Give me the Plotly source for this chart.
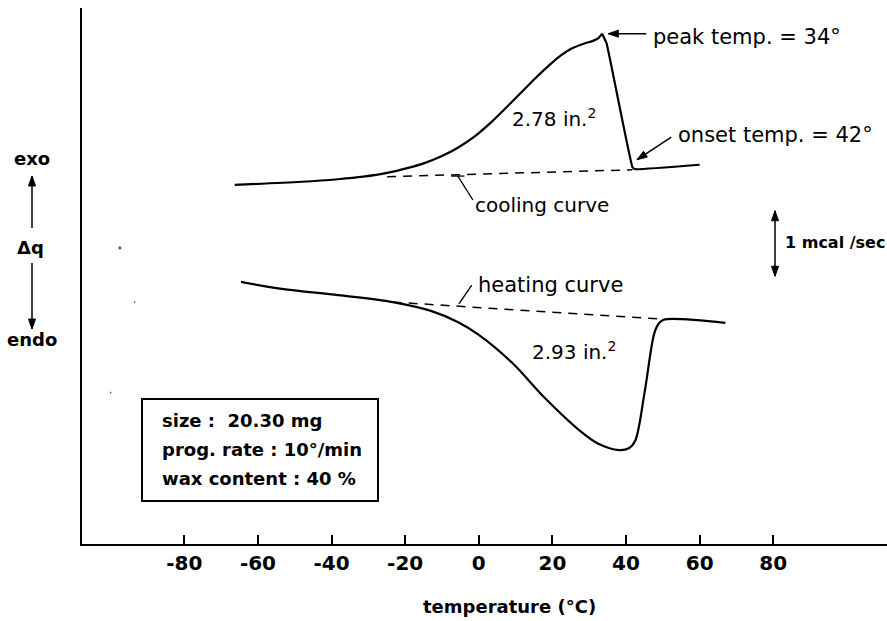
import math
import plotly.graph_objects as go

# ---------------- data (temperature in degC, heat flow in mcal/sec, arbitrary offset) ----------------
cool_T = [-66.3, -48.1, -38.3, -31.4, -24.9, -19.2, -14.6, -10.3, -5.7, -1.1, 3.1, 6.8,
          10.9, 15.3, 19.7, 22.4, 25.1, 28.5, 31.2, 32.5, 33.5, 34.7, 41.75, 42.5, 60.0]
cool_q = [5.70, 5.75, 5.79, 5.83, 5.89, 5.97, 6.05, 6.15, 6.29, 6.47, 6.68, 6.89,
          7.13, 7.39, 7.63, 7.76, 7.86, 7.94, 7.99, 8.03, 8.10, 7.95, 5.98, 5.95, 6.02]
cool_base_T = [-24.9, 41.75]
cool_base_q = [5.83, 5.94]

heat_T = [-64.6, -53.5, -38.2, -23.4, -13.0, -5.6, 0.0, 9.0, 17.9, 27.0, 32.5, 38.1, 40.75,
          42.5, 45.05, 47.65, 48.9, 50.2, 67.0]
heat_q = [4.16, 4.05, 3.95, 3.84, 3.70, 3.52, 3.32, 2.88, 2.32, 1.82, 1.59, 1.49, 1.52,
          1.64, 2.41, 3.34, 3.50, 3.56, 3.51]
heat_base_T = [-23.4, 49.6]
heat_base_q = [3.84, 3.57]

tick_vals = [-80, -60, -40, -20, 0, 20, 40, 60, 80]
tick_text = ["-80", "-60", "-40", "-20", "0", "20", "40", "60", "80"]

box_lines = ["size :  20.30 mg", "prog. rate : 10°/min", "wax content : 40 %"]
speck_T = [-97.5, -93.5, -100.0]
speck_q = [4.70, 3.84, 2.40]

# ---------------- figure ----------------
FONT = "DejaVu Sans"
fig = go.Figure()

solid = dict(color="black", width=2.2)
dashed = dict(color="black", width=1.5, dash="9px,7px")

fig.add_trace(go.Scatter(x=cool_T[:21], y=cool_q[:21], mode="lines", line=solid, line_shape="spline",
                         line_smoothing=0.9, hoverinfo="skip"))
fig.add_trace(go.Scatter(x=cool_T[20:], y=cool_q[20:], mode="lines", line=solid, line_shape="spline",
                         line_smoothing=0.3, hoverinfo="skip"))
fig.add_trace(go.Scatter(x=cool_base_T, y=cool_base_q, mode="lines", line=dashed, hoverinfo="skip"))
fig.add_trace(go.Scatter(x=heat_T, y=heat_q, mode="lines", line=solid, line_shape="spline",
                         line_smoothing=0.9, hoverinfo="skip"))
fig.add_trace(go.Scatter(x=heat_base_T, y=heat_base_q, mode="lines", line=dashed, hoverinfo="skip"))
fig.add_trace(go.Scatter(x=speck_T, y=speck_q, mode="markers",
                         marker=dict(color="black", size=[4, 2.5, 2.5]), hoverinfo="skip"))

ann = []
shapes = []


def reg(size):
    return dict(family=FONT, size=size, color="black")


def bld(size):
    return dict(family=FONT, size=size, color="black", weight="bold")


# pixel scale of each reference (px per unit), used only to orient arrow heads
PX = {"x": 805 / 218.7, "y": 536 / 8.508, "paper_x": 805.0, "paper_y": 536.0}


def add_arrow(x0, y0, x1, y1, xref, yref, heads=("end",), width=1.5, hl=10, hw=3.5):
    sx = PX["paper_x"] if xref == "paper" else PX["x"]
    sy = PX["paper_y"] if yref == "paper" else PX["y"]
    shapes.append(dict(type="line", xref=xref, yref=yref, x0=x0, y0=y0, x1=x1, y1=y1,
                       line=dict(color="black", width=width)))
    for h in heads:
        if h == "end":
            tx, ty, fx, fy = x1, y1, x0, y0
        else:
            tx, ty, fx, fy = x0, y0, x1, y1
        dx, dy = (tx - fx) * sx, (ty - fy) * sy
        n = math.hypot(dx, dy)
        ux, uy = dx / n, dy / n
        bx, by = -ux * hl, -uy * hl
        px_, py_ = -uy * hw, ux * hw
        path = (f"M0,0 L{bx + px_:.2f},{by + py_:.2f} L{bx - px_:.2f},{by - py_:.2f} Z")
        shapes.append(dict(type="path", xref=xref, yref=yref, xsizemode="pixel", ysizemode="pixel",
                           xanchor=tx, yanchor=ty, path=path, fillcolor="black",
                           line=dict(color="black", width=1)))


def pnote(xpx, ypx, text, font, xanchor="center"):
    ann.append(dict(x=(xpx - 82) / 805, y=(544 - ypx) / 536, xref="paper", yref="paper", text=text,
                    showarrow=False, xanchor=xanchor, yanchor="middle", font=font))


# curve labels
ann.append(dict(x=20.5, y=6.76, xref="x", yref="y", text="2.78 in.<sup>2</sup>", showarrow=False,
                xanchor="center", yanchor="middle", font=reg(20)))
ann.append(dict(x=25.9, y=3.06, xref="x", yref="y", text="2.93 in.<sup>2</sup>", showarrow=False,
                xanchor="center", yanchor="middle", font=reg(20)))
ann.append(dict(x=46.75, y=8.05, xref="x", yref="y", text="peak temp. = 34°", showarrow=False,
                xanchor="left", yanchor="middle", font=reg(21)))
ann.append(dict(x=53.5, y=6.49, xref="x", yref="y", text="onset temp. = 42°", showarrow=False,
                xanchor="left", yanchor="middle", font=reg(21)))
ann.append(dict(x=-1.6, y=5.38, xref="x", yref="y", text="cooling curve", showarrow=False,
                xanchor="left", yanchor="middle", font=reg(20)))
ann.append(dict(x=-0.8, y=4.11, xref="x", yref="y", text="heating curve", showarrow=False,
                xanchor="left", yanchor="middle", font=reg(21)))
# pointer arrows
add_arrow(45.5, 8.10, 35.2, 8.10, "x", "y")
add_arrow(52.3, 6.46, 43.0, 6.10, "x", "y")

# left labels
pnote(32, 158, "exo", bld(18))
pnote(30, 248, "Δq", bld(18))
pnote(32, 339, "endo", bld(18))
L = -50 / 805
add_arrow(L, (544 - 228) / 536, L, (544 - 176) / 536, "paper", "paper")
add_arrow(L, (544 - 263) / 536, L, (544 - 329) / 536, "paper", "paper")

# scale bar 1 mcal/sec
SB = (775 - 82) / 805
add_arrow(SB, 4.25, SB, 5.29, "paper", "y", heads=("end", "start"))
ann.append(dict(x=(783 - 82) / 805, y=4.79, xref="paper", yref="y", text="1 mcal /sec", showarrow=False,
                xanchor="left", yanchor="middle", font=bld(16)))

# info box text
for i, line in enumerate(box_lines):
    pnote(160, [420, 449, 478][i], line, bld(18), xanchor="left")

# axis title
pnote(509, 606, "temperature (°C)", bld(18))

shapes += [
    dict(type="rect", xref="paper", yref="paper", x0=(142 - 82) / 805, x1=(378 - 82) / 805,
         y0=(544 - 501) / 536, y1=(544 - 399) / 536, line=dict(color="black", width=2)),
    dict(type="line", xref="x", yref="y", x0=-5.7, y0=5.84, x1=-1.6, y1=5.46, line=dict(color="black", width=1.3)),
    dict(type="line", xref="x", yref="y", x0=-7.5, y0=5.84, x1=-3.9, y1=5.84, line=dict(color="black", width=1.3)),
    dict(type="line", xref="x", yref="y", x0=-1.9, y0=4.11, x1=-5.4, y1=3.81, line=dict(color="black", width=1.3)),
]

fig.update_layout(
    width=887, height=621,
    margin=dict(l=82, r=0, t=8, b=77),
    paper_bgcolor="white", plot_bgcolor="white",
    showlegend=False,
    annotations=ann, shapes=shapes,
    xaxis=dict(range=[-107.8, 110.9], showgrid=False, zeroline=False, showline=True,
               linecolor="black", linewidth=2.2, ticks="inside", ticklen=9, tickwidth=1.6,
               tickcolor="black", tickvals=tick_vals, ticktext=tick_text,
               tickfont=bld(20)),
    yaxis=dict(range=[0, 8.508], showgrid=False, zeroline=False, showline=True,
               linecolor="black", linewidth=2.2, showticklabels=False, ticks=""),
)

fig.write_html("out.html")
